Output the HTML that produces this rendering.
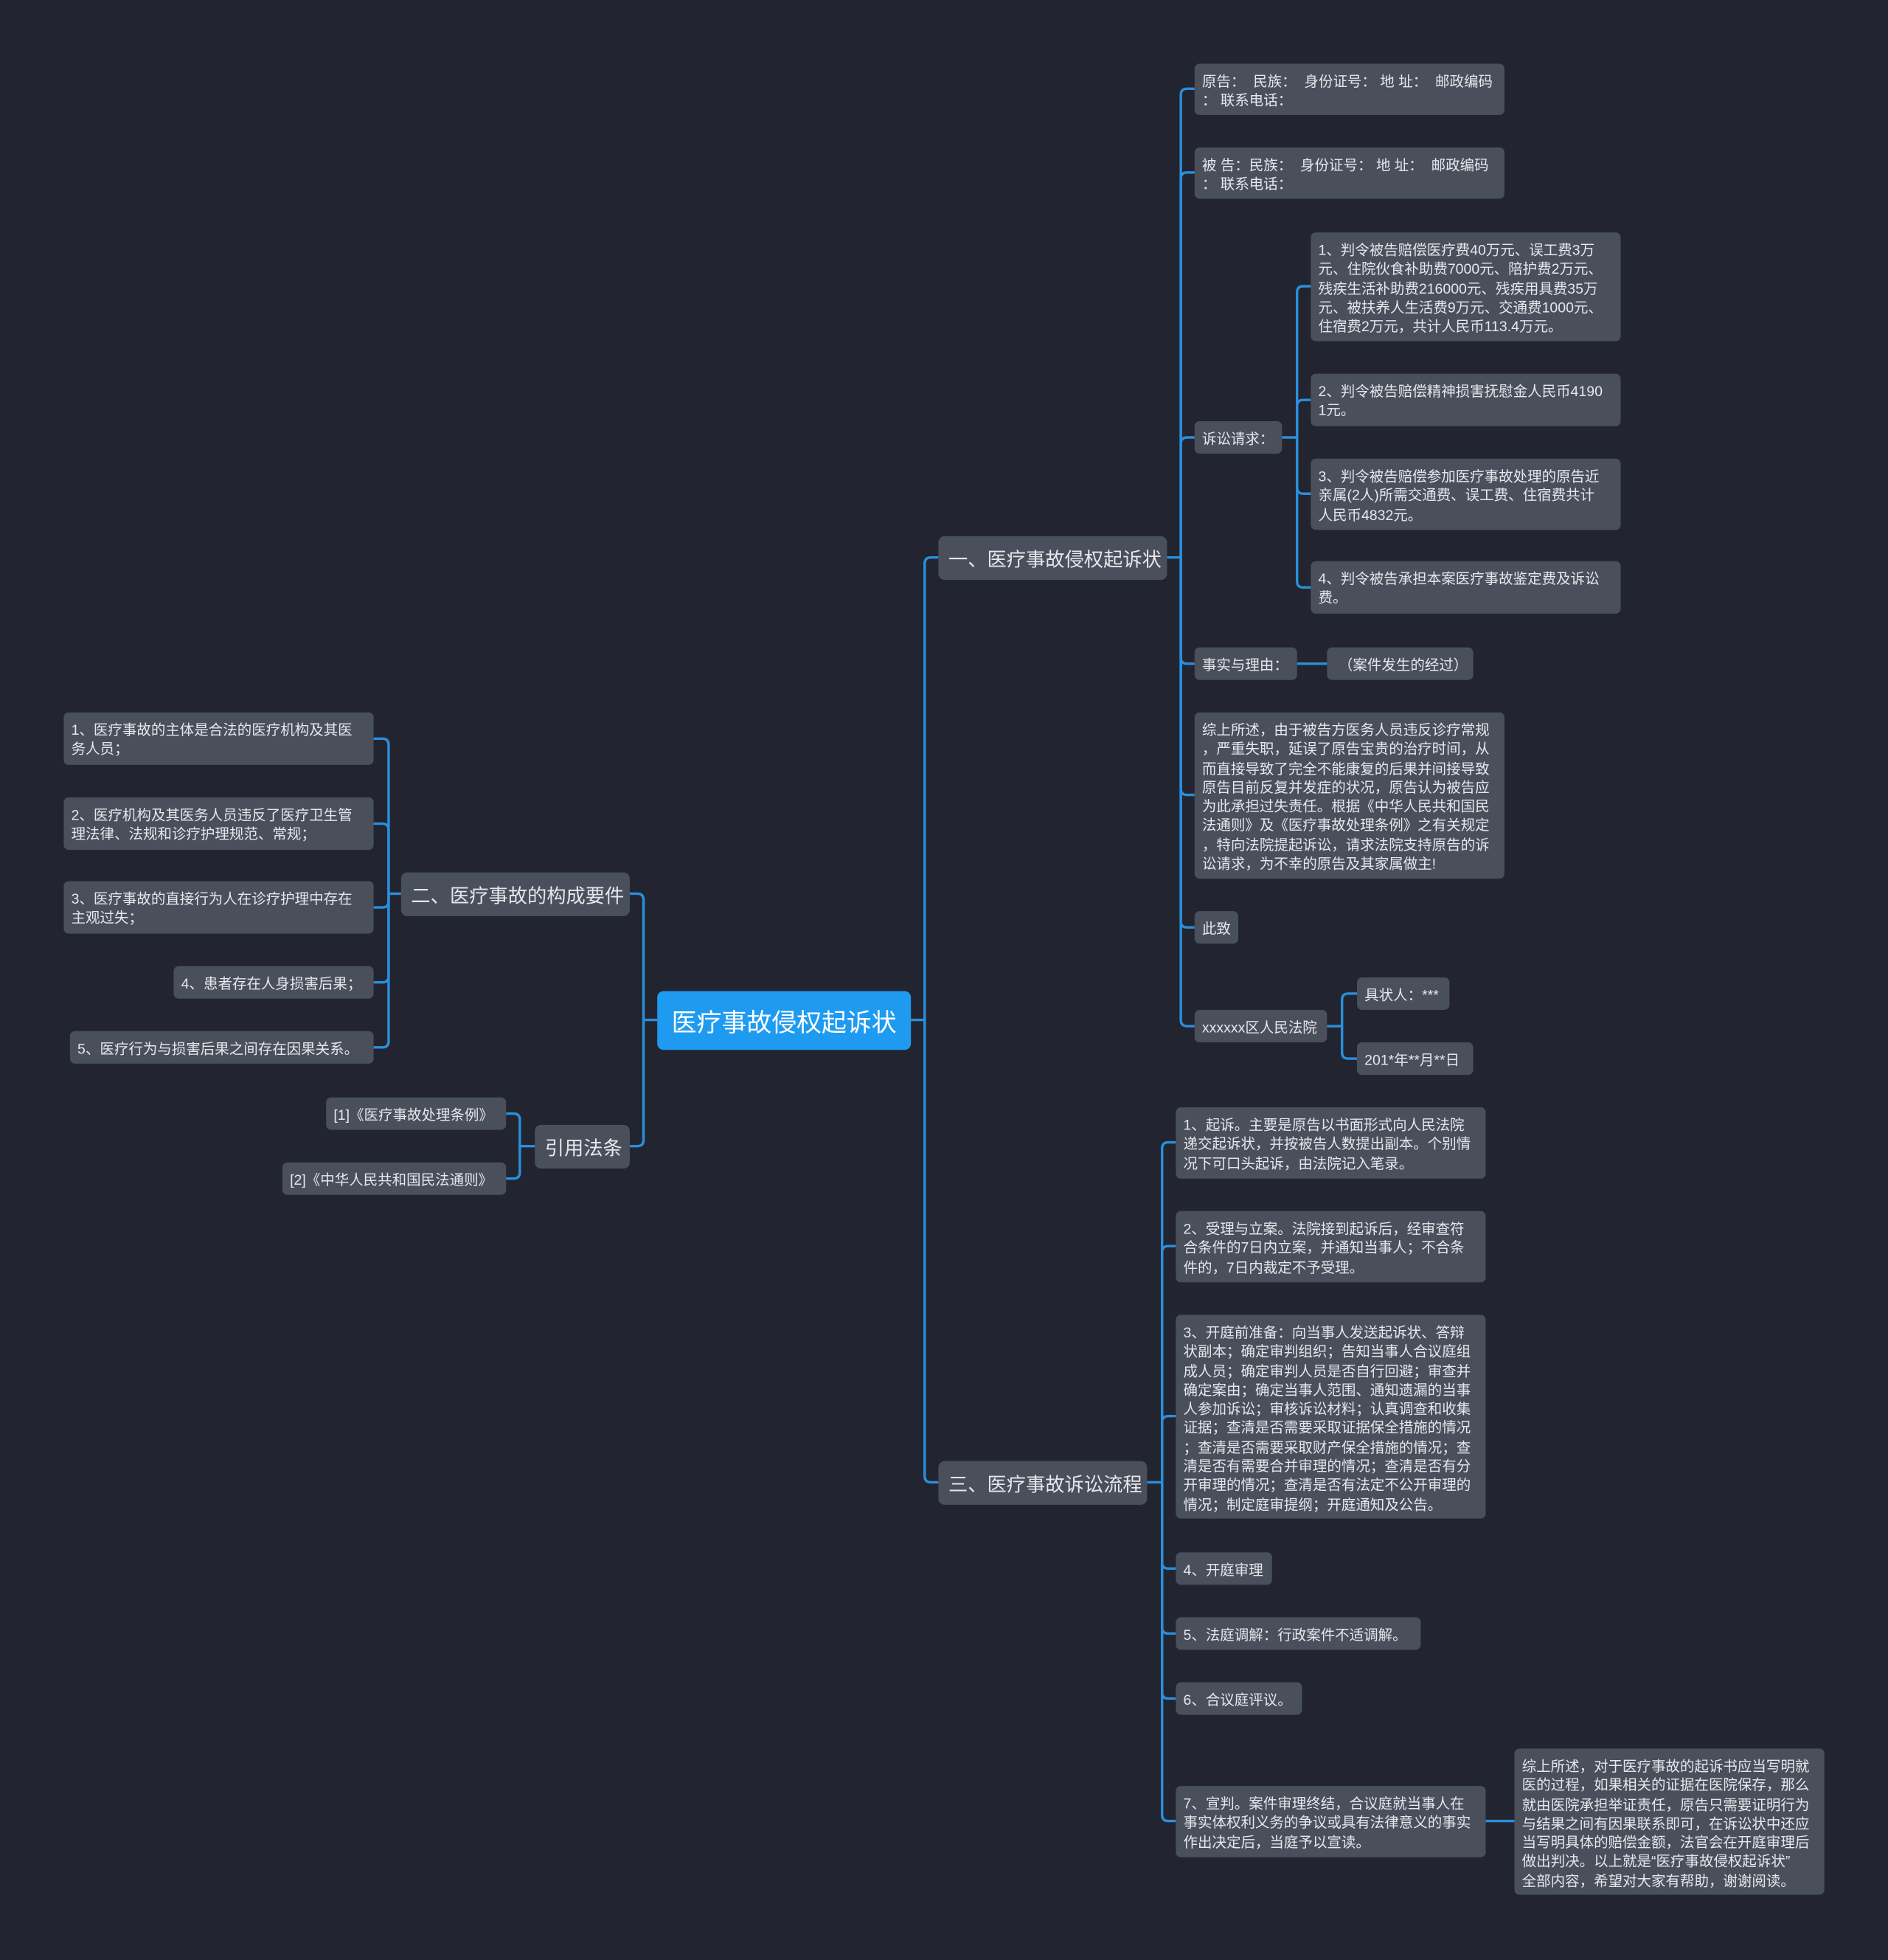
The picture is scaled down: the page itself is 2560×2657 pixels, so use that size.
<!DOCTYPE html>
<html><head><meta charset="utf-8"><style>
html,body{margin:0;padding:0;background:#22252f;}
body{width:2560px;height:2657px;overflow:hidden;}
#c{position:absolute;left:0;top:0;width:1511px;height:1568px;transform:scale(1.6943);transform-origin:0 0;font-family:"Liberation Sans","Noto Sans CJK SC",sans-serif;}
.n{position:absolute;background:#4a4f5c;color:#e6e7ea;border-radius:4px;font-size:11.5px;line-height:15.3px;padding:8px 6px 2px 6px;box-sizing:border-box;white-space:nowrap;overflow:hidden;}
.l1{font-size:15.5px;line-height:35px;padding:2px 8px 0 8px;border-radius:5px;}
.root{background:#1e9bf0;color:#fff;font-size:20px;line-height:47px;text-align:center;padding:3px 0 0 0;border-radius:5px;}
svg{position:absolute;left:0;top:0;}
path{fill:none;stroke:#2a8fdc;stroke-width:2;}
</style></head><body><div id="c">
<svg width="1511" height="1568">
<path d="M729,816 H740 V451 Q740,446 745,446 H751"/><path d="M740,816 V1181 Q740,1186 745,1186 H751"/>
<path d="M526,816 H515 V720 Q515,715 510,715 H504"/><path d="M515,816 V912 Q515,917 510,917 H504"/>
<path d="M934,446 H945 V76 Q945,71 950,71 H956"/><path d="M945,446 V143 Q945,138 950,138 H956"/><path d="M945,446 V355 Q945,350 950,350 H956"/>
<path d="M945,446 V526 Q945,531 950,531 H956"/><path d="M945,446 V631 Q945,636 950,636 H956"/><path d="M945,446 V737 Q945,742 950,742 H956"/><path d="M945,446 V816 Q945,821 950,821 H956"/>
<path d="M1026,350 H1038 V234 Q1038,229 1043,229 H1049"/><path d="M1038,350 V325 Q1038,320 1043,320 H1049"/><path d="M1038,350 V390 Q1038,395 1043,395 H1049"/><path d="M1038,350 V465 Q1038,470 1043,470 H1049"/>
<path d="M1038,531 H1062"/>
<path d="M1062,821 H1074 V800 Q1074,795 1079,795 H1086"/><path d="M1074,821 V842 Q1074,847 1079,847 H1086"/>
<path d="M918,1186 H930 V919 Q930,914 935,914 H941"/><path d="M930,1186 V1002 Q930,997 935,997 H941"/><path d="M930,1186 V1138 Q930,1133 935,1133 H941"/>
<path d="M930,1186 V1250 Q930,1255 935,1255 H941"/><path d="M930,1186 V1302 Q930,1307 935,1307 H941"/><path d="M930,1186 V1354 Q930,1359 935,1359 H941"/><path d="M930,1186 V1452 Q930,1457 935,1457 H941"/>
<path d="M1189,1457 H1212"/>
<path d="M321,715 H311 V596 Q311,591 306,591 H299"/><path d="M311,715 V664 Q311,659 306,659 H299"/><path d="M311,715 V721 Q311,726 306,726 H299"/><path d="M311,715 V781 Q311,786 306,786 H299"/><path d="M311,715 V833 Q311,838 306,838 H299"/>
<path d="M428,917 H416 V896 Q416,891 411,891 H405"/><path d="M416,917 V938 Q416,943 411,943 H405"/>
</svg>
<div class="n root" style="left:526px;top:793px;width:203px;height:47px;">医疗事故侵权起诉状</div>
<div class="n l1" style="left:751px;top:429px;width:183px;height:35px;">一、医疗事故侵权起诉状</div>
<div class="n l1" style="left:751px;top:1169px;width:167px;height:35px;">三、医疗事故诉讼流程</div>
<div class="n l1" style="left:321px;top:698px;width:183px;height:35px;">二、医疗事故的构成要件</div>
<div class="n l1" style="left:428px;top:900px;width:76px;height:35px;">引用法条</div>

<div class="n" style="left:956px;top:51px;width:248px;height:41px;">原告：&nbsp; 民族：&nbsp; 身份证号：&nbsp;地 址：&nbsp; 邮政编码<br>：&nbsp;联系电话：</div>
<div class="n" style="left:956px;top:118px;width:248px;height:41px;">被 告：民族：&nbsp; 身份证号：&nbsp;地 址：&nbsp; 邮政编码<br>：&nbsp;联系电话：</div>
<div class="n" style="left:956px;top:337px;width:70px;height:26px;">诉讼请求：</div>
<div class="n" style="left:1049px;top:186px;width:248px;height:87px;">1、判令被告赔偿医疗费40万元、误工费3万<br>元、住院伙食补助费7000元、陪护费2万元、<br>残疾生活补助费216000元、残疾用具费35万<br>元、被扶养人生活费9万元、交通费1000元、<br>住宿费2万元，共计人民币113.4万元。</div>
<div class="n" style="left:1049px;top:299px;width:248px;height:42px;">2、判令被告赔偿精神损害抚慰金人民币4190<br>1元。</div>
<div class="n" style="left:1049px;top:367px;width:248px;height:57px;">3、判令被告赔偿参加医疗事故处理的原告近<br>亲属(2人)所需交通费、误工费、住宿费共计<br>人民币4832元。</div>
<div class="n" style="left:1049px;top:449px;width:248px;height:42px;">4、判令被告承担本案医疗事故鉴定费及诉讼<br>费。</div>
<div class="n" style="left:956px;top:518px;width:82px;height:26px;">事实与理由：</div>
<div class="n" style="left:1062px;top:518px;width:117px;height:26px;">&nbsp;（案件发生的经过）</div>
<div class="n" style="left:956px;top:570px;width:248px;height:133px;">综上所述，由于被告方医务人员违反诊疗常规<br>，严重失职，延误了原告宝贵的治疗时间，从<br>而直接导致了完全不能康复的后果并间接导致<br>原告目前反复并发症的状况，原告认为被告应<br>为此承担过失责任。根据《中华人民共和国民<br>法通则》及《医疗事故处理条例》之有关规定<br>，特向法院提起诉讼，请求法院支持原告的诉<br>讼请求，为不幸的原告及其家属做主!</div>
<div class="n" style="left:956px;top:729px;width:35px;height:26px;">此致</div>
<div class="n" style="left:956px;top:808px;width:106px;height:26px;">xxxxxx区人民法院</div>
<div class="n" style="left:1086px;top:782px;width:74px;height:26px;">具状人：***</div>
<div class="n" style="left:1086px;top:834px;width:93px;height:26px;">201*年**月**日</div>

<div class="n" style="left:941px;top:886px;width:248px;height:57px;">1、起诉。主要是原告以书面形式向人民法院<br>递交起诉状，并按被告人数提出副本。个别情<br>况下可口头起诉，由法院记入笔录。</div>
<div class="n" style="left:941px;top:969px;width:248px;height:57px;">2、受理与立案。法院接到起诉后，经审查符<br>合条件的7日内立案，并通知当事人；不合条<br>件的，7日内裁定不予受理。</div>
<div class="n" style="left:941px;top:1052px;width:248px;height:163px;">3、开庭前准备：向当事人发送起诉状、答辩<br>状副本；确定审判组织；告知当事人合议庭组<br>成人员；确定审判人员是否自行回避；审查并<br>确定案由；确定当事人范围、通知遗漏的当事<br>人参加诉讼；审核诉讼材料；认真调查和收集<br>证据；查清是否需要采取证据保全措施的情况<br>；查清是否需要采取财产保全措施的情况；查<br>清是否有需要合并审理的情况；查清是否有分<br>开审理的情况；查清是否有法定不公开审理的<br>情况；制定庭审提纲；开庭通知及公告。</div>
<div class="n" style="left:941px;top:1242px;width:77px;height:26px;">4、开庭审理</div>
<div class="n" style="left:941px;top:1294px;width:196px;height:26px;">5、法庭调解：行政案件不适调解。</div>
<div class="n" style="left:941px;top:1346px;width:101px;height:26px;">6、合议庭评议。</div>
<div class="n" style="left:941px;top:1429px;width:248px;height:57px;">7、宣判。案件审理终结，合议庭就当事人在<br>事实体权利义务的争议或具有法律意义的事实<br>作出决定后，当庭予以宣读。</div>
<div class="n" style="left:1212px;top:1399px;width:248px;height:117px;">综上所述，对于医疗事故的起诉书应当写明就<br>医的过程，如果相关的证据在医院保存，那么<br>就由医院承担举证责任，原告只需要证明行为<br>与结果之间有因果联系即可，在诉讼状中还应<br>当写明具体的赔偿金额，法官会在开庭审理后<br>做出判决。以上就是“医疗事故侵权起诉状”<br>全部内容，希望对大家有帮助，谢谢阅读。</div>

<div class="n" style="left:51px;top:570px;width:248px;height:42px;">1、医疗事故的主体是合法的医疗机构及其医<br>务人员；</div>
<div class="n" style="left:51px;top:638px;width:248px;height:42px;">2、医疗机构及其医务人员违反了医疗卫生管<br>理法律、法规和诊疗护理规范、常规；</div>
<div class="n" style="left:51px;top:705px;width:248px;height:42px;">3、医疗事故的直接行为人在诊疗护理中存在<br>主观过失；</div>
<div class="n" style="left:139px;top:773px;width:160px;height:26px;">4、患者存在人身损害后果；</div>
<div class="n" style="left:56px;top:825px;width:243px;height:26px;">5、医疗行为与损害后果之间存在因果关系。</div>
<div class="n" style="left:261px;top:878px;width:144px;height:26px;">[1]《医疗事故处理条例》</div>
<div class="n" style="left:226px;top:930px;width:179px;height:26px;">[2]《中华人民共和国民法通则》</div>
</div></body></html>
